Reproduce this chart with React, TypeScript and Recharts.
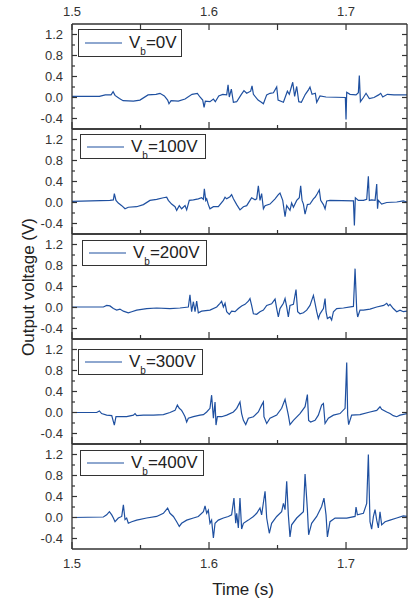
import React from 'react';
import { LineChart, Line, XAxis, YAxis } from 'recharts';

// ---------- data ----------
const timeTicks = [1.5, 1.55, 1.6, 1.65, 1.7];
const timeLabels = [1.5, 1.6, 1.7];
const voltTicks = [-0.4, -0.2, 0, 0.2, 0.4, 0.6, 0.8, 1.0, 1.2];
const voltLabels = [-0.4, 0, 0.4, 0.8, 1.2];
const timeDomain: [number, number] = [1.5, 1.7445];
const voltDomain: [number, number] = [-0.6, 1.4];
const biasLabels = ['0V', '100V', '200V', '300V', '400V'];

const vb0: [number, number][] = [
  [1.5, 0.02], [1.52, 0.02], [1.5243, 0.05], [1.5285, 0.05], [1.53, 0.11], [1.5314, 0.04],
  [1.5346, -0.02], [1.5373, -0.06], [1.5448, -0.07], [1.5496, -0.05], [1.5555, 0.05],
  [1.5613, 0.06], [1.5642, 0.08], [1.5674, 0.03], [1.5698, -0.05], [1.5708, -0.12],
  [1.5723, -0.06], [1.5776, -0.07], [1.5825, -0.03], [1.5876, 0.06], [1.5915, 0.08],
  [1.5934, 0.01], [1.5954, -0.05], [1.5964, -0.19], [1.5973, -0.07], [1.6007, -0.08],
  [1.6032, -0.03], [1.6046, -0.08], [1.6071, 0.03], [1.61, 0.06], [1.6129, 0.05],
  [1.6139, 0.24], [1.6148, 0.01], [1.6163, 0.16], [1.6178, -0.09], [1.6202, -0.08],
  [1.6236, 0.06], [1.6255, 0.13], [1.6275, 0.08], [1.6304, 0.12], [1.6314, 0.22],
  [1.6324, 0.06], [1.6358, -0.05], [1.6382, -0.09], [1.6397, -0.12], [1.6421, 0.05],
  [1.6445, 0.08], [1.647, 0.09], [1.6494, 0.2], [1.6504, -0.05], [1.6543, -0.09],
  [1.6572, 0.12], [1.6586, 0.06], [1.6601, 0.2], [1.6611, 0.29], [1.6625, 0.02],
  [1.664, 0.21], [1.6655, -0.08], [1.6674, -0.09], [1.6703, 0.06], [1.6727, 0.15],
  [1.6737, 0.2], [1.6752, 0.06], [1.6776, 0.08], [1.6786, -0.09], [1.681, 0.03],
  [1.6854, 0.01], [1.6995, 0.0], [1.7, -0.42], [1.7005, 0.1], [1.7029, 0.06],
  [1.7073, 0.05], [1.709, 0.09], [1.7097, 0.42], [1.7105, -0.08], [1.7127, 0.0],
  [1.7146, 0.08], [1.717, -0.02], [1.7204, 0.0], [1.7238, 0.05], [1.7253, 0.08],
  [1.7268, 0.01], [1.7302, 0.06], [1.735, 0.05], [1.7445, 0.05],
];

const vb100: [number, number][] = [
  [1.5, 0.02], [1.5277, 0.04], [1.5302, 0.05], [1.5309, 0.17], [1.5321, 0.04], [1.5338, -0.01],
  [1.5363, -0.06], [1.5387, -0.12], [1.5411, -0.09], [1.5472, -0.08], [1.5521, -0.04],
  [1.5569, 0.04], [1.5618, 0.06], [1.5667, 0.09], [1.5691, 0.1], [1.5703, 0.04],
  [1.5727, -0.03], [1.5752, -0.08], [1.5764, -0.15], [1.5783, -0.06], [1.58, -0.12],
  [1.5825, -0.06], [1.5837, -0.14], [1.5856, 0.04], [1.5886, 0.05], [1.5922, 0.07],
  [1.5946, 0.09], [1.5959, 0.06], [1.5966, 0.26], [1.5976, 0.04], [1.5983, 0.07],
  [1.5995, -0.04], [1.6007, -0.12], [1.6032, -0.08], [1.6068, -0.08], [1.6105, 0.04],
  [1.6117, 0.1], [1.6129, 0.07], [1.6153, 0.11], [1.6165, 0.15], [1.6178, 0.07],
  [1.6202, -0.04], [1.6226, -0.14], [1.6251, -0.08], [1.6275, -0.06], [1.6299, 0.04],
  [1.6311, 0.09], [1.6336, 0.05], [1.6348, 0.07], [1.636, 0.32], [1.6372, 0.04],
  [1.6384, 0.17], [1.6397, -0.12], [1.6409, -0.06], [1.6445, -0.03], [1.6482, 0.07],
  [1.6506, 0.15], [1.6518, 0.18], [1.6538, 0.04], [1.6555, -0.27], [1.6567, -0.06],
  [1.6591, -0.15], [1.6603, -0.01], [1.6616, -0.09], [1.664, 0.04], [1.6659, 0.09],
  [1.6669, 0.32], [1.6679, 0.04], [1.6689, -0.03], [1.6701, -0.22], [1.6718, -0.04],
  [1.6737, -0.03], [1.6762, 0.07], [1.6774, 0.1], [1.6791, 0.17], [1.6805, 0.24],
  [1.6815, 0.04], [1.6835, -0.04], [1.6847, -0.12], [1.6859, 0.03], [1.6883, 0.04],
  [1.7054, 0.03], [1.7061, -0.44], [1.7068, 0.09], [1.709, 0.04], [1.7127, 0.04],
  [1.7151, 0.06], [1.7163, 0.5], [1.717, 0.04], [1.7187, 0.05], [1.7212, 0.04],
  [1.7224, 0.35], [1.723, -0.12], [1.7236, 0.04], [1.726, -0.03], [1.7297, 0.0],
  [1.737, 0.01], [1.7418, 0.03], [1.7445, 0.01],
];

const vb200: [number, number][] = [
  [1.5, 0.01], [1.5229, 0.01], [1.5253, 0.04], [1.5277, 0.03], [1.5302, -0.02], [1.5326, -0.05],
  [1.535, -0.03], [1.5375, -0.07], [1.5411, -0.1], [1.5436, -0.08], [1.5472, -0.05],
  [1.5545, -0.02], [1.5618, -0.01], [1.5715, -0.02], [1.5788, -0.01], [1.5849, 0.01],
  [1.5861, 0.24], [1.5873, -0.08], [1.5886, 0.11], [1.5898, -0.08], [1.591, 0.12],
  [1.5922, -0.1], [1.5946, -0.07], [1.6007, -0.05], [1.6056, 0.01], [1.608, 0.08],
  [1.6092, 0.12], [1.6105, 0.01], [1.6117, 0.08], [1.6129, -0.08], [1.6148, -0.13],
  [1.6165, -0.07], [1.619, -0.08], [1.6214, -0.02], [1.6238, 0.03], [1.6263, 0.06],
  [1.6287, 0.12], [1.6299, 0.17], [1.6311, 0.04], [1.6324, -0.12], [1.6348, -0.13],
  [1.6372, -0.08], [1.6397, -0.05], [1.6421, 0.04], [1.6457, 0.07], [1.6482, 0.16],
  [1.6494, -0.02], [1.6506, -0.18], [1.6518, -0.02], [1.6543, 0.08], [1.6555, 0.17],
  [1.6567, 0.01], [1.6579, -0.18], [1.6591, 0.04], [1.6616, 0.06], [1.6635, 0.34],
  [1.6647, -0.08], [1.6664, -0.12], [1.6689, -0.1], [1.6713, -0.05], [1.6737, 0.04],
  [1.6762, 0.23], [1.6774, 0.08], [1.6786, -0.08], [1.6798, -0.21], [1.681, -0.12],
  [1.6835, -0.02], [1.6847, 0.17], [1.6854, -0.08], [1.6864, -0.21], [1.6883, -0.18],
  [1.6895, -0.24], [1.6908, -0.08], [1.6932, -0.02], [1.6981, -0.01], [1.7054, 0.02],
  [1.7066, 0.74], [1.7078, -0.05], [1.7085, -0.18], [1.7102, -0.05], [1.7127, -0.05],
  [1.7175, -0.03], [1.7224, 0.01], [1.7275, 0.04], [1.7297, 0.08], [1.7309, 0.03],
  [1.7321, 0.06], [1.7345, -0.02], [1.737, -0.08], [1.7394, -0.05], [1.7418, -0.08],
  [1.7445, -0.07],
];

const vb300: [number, number][] = [
  [1.5, 0.0], [1.518, 0.0], [1.52, 0.03], [1.5216, -0.02], [1.5253, -0.05], [1.529, -0.06],
  [1.5309, -0.24], [1.5321, -0.08], [1.535, -0.08], [1.5399, -0.08], [1.5448, -0.05],
  [1.546, -0.02], [1.5472, -0.06], [1.5521, -0.05], [1.5594, -0.05], [1.5667, -0.04],
  [1.5715, 0.0], [1.5752, 0.04], [1.5769, 0.14], [1.5783, 0.08], [1.58, 0.04],
  [1.5813, -0.02], [1.5825, -0.08], [1.5837, -0.18], [1.5849, -0.11], [1.5886, -0.08],
  [1.5934, -0.05], [1.5959, -0.04], [1.5983, 0.01], [1.6007, 0.08], [1.6019, 0.33],
  [1.6032, -0.11], [1.6044, 0.2], [1.6051, -0.24], [1.6061, -0.08], [1.6092, -0.08],
  [1.6129, -0.05], [1.6178, 0.01], [1.6202, 0.08], [1.6226, 0.2], [1.6238, -0.02],
  [1.6251, -0.15], [1.6268, -0.23], [1.6287, -0.11], [1.6324, -0.08], [1.636, 0.01],
  [1.6384, 0.14], [1.6397, 0.2], [1.6401, -0.08], [1.6421, -0.21], [1.6445, -0.11],
  [1.6494, -0.05], [1.653, 0.08], [1.6555, 0.25], [1.6579, -0.05], [1.6591, -0.23],
  [1.6616, -0.15], [1.6664, -0.02], [1.6701, 0.11], [1.6718, 0.34], [1.6727, -0.15],
  [1.6742, -0.18], [1.6774, -0.15], [1.6798, -0.05], [1.6822, 0.14], [1.6835, 0.17],
  [1.6847, -0.21], [1.6871, -0.11], [1.6908, -0.05], [1.6956, -0.02], [1.6993, 0.08],
  [1.7005, 0.95], [1.7012, -0.05], [1.7019, -0.23], [1.7041, -0.05], [1.7102, -0.04],
  [1.7175, 0.01], [1.7224, 0.04], [1.7248, 0.11], [1.726, 0.06], [1.7297, 0.01],
  [1.7321, -0.02], [1.7345, -0.06], [1.737, -0.08], [1.7394, -0.05], [1.7445, -0.02],
];

const vb400: [number, number][] = [
  [1.5, 0.0], [1.5229, 0.01], [1.5253, 0.05], [1.5273, 0.11], [1.529, 0.05], [1.5302, -0.01],
  [1.5314, -0.08], [1.5338, -0.01], [1.5363, 0.02], [1.5375, 0.24], [1.5387, -0.04],
  [1.5399, -0.01], [1.5411, -0.11], [1.5436, -0.08], [1.5472, -0.05], [1.5545, -0.01],
  [1.5618, 0.02], [1.5667, 0.08], [1.5698, 0.18], [1.5715, 0.08], [1.574, 0.02],
  [1.5764, -0.08], [1.5783, -0.17], [1.58, -0.11], [1.5837, -0.05], [1.5886, -0.01],
  [1.5922, 0.02], [1.5959, 0.11], [1.5971, 0.22], [1.5983, 0.08], [1.5995, 0.14],
  [1.6007, -0.11], [1.6019, -0.05], [1.6032, -0.39], [1.6044, -0.11], [1.6068, -0.05],
  [1.6105, -0.01], [1.6141, 0.02], [1.6165, 0.05], [1.6182, 0.37], [1.6195, -0.11],
  [1.6202, 0.08], [1.6214, -0.2], [1.6226, 0.37], [1.6238, -0.22], [1.6251, -0.11],
  [1.6287, -0.05], [1.6324, 0.02], [1.6348, 0.08], [1.6372, 0.18], [1.6384, 0.05],
  [1.6409, 0.5], [1.6421, -0.01], [1.644, -0.3], [1.6457, -0.11], [1.6494, 0.02],
  [1.653, 0.11], [1.6543, 0.27], [1.6555, 0.15], [1.6567, 0.69], [1.6579, 0.05],
  [1.6591, -0.37], [1.6603, -0.14], [1.664, -0.01], [1.6689, 0.11], [1.6701, 0.83],
  [1.6718, 0.15], [1.6727, -0.33], [1.6749, -0.11], [1.6786, 0.02], [1.6822, 0.21],
  [1.6839, 0.37], [1.6854, 0.05], [1.6864, -0.37], [1.6883, -0.08], [1.692, -0.01],
  [1.7005, -0.01], [1.7066, 0.02], [1.7073, 0.2], [1.7083, 0.05], [1.7127, 0.08],
  [1.7151, 0.27], [1.7163, 1.2], [1.7175, -0.08], [1.7187, -0.22], [1.72, 0.02],
  [1.7212, 0.15], [1.7224, -0.05], [1.7236, -0.2], [1.7248, 0.11], [1.726, -0.14],
  [1.7285, -0.08], [1.7321, -0.05], [1.737, -0.01], [1.7418, 0.03], [1.7445, 0.02],
];

const allSeries = [vb0, vb100, vb200, vb300, vb400];

// ---------- style ----------
const FONT = '"Liberation Sans", Arial, Helvetica, sans-serif';
const AXIS = '#333333';
const TRACE = '#1f50a0';
const PLOT_TOP = 24;
const PANEL_H = 105;
const LEGEND_BOXES = [
  { left: 78, top: 29, width: 104, height: 28 },
  { left: 80, top: 134, width: 126, height: 25 },
  { left: 82, top: 240, width: 125, height: 26 },
  { left: 78, top: 349, width: 125, height: 26 },
  { left: 80, top: 450, width: 124, height: 26 },
];

const isIn = (arr: number[], v: number) => arr.some((a) => Math.abs(a - v) < 1e-9);

function LeftTick(props: any) {
  const { x, y, payload } = props;
  const major = isIn(voltLabels, payload.value);
  return (
    <g>
      <line x1={x} x2={x + (major ? 5 : 3)} y1={y} y2={y} stroke={AXIS} strokeWidth={1.2} />
      {major && (
        <text x={x - 9} y={y} dy="0.36em" textAnchor="end" fontSize={13} fill="#333" fontFamily={FONT}>
          {Number(payload.value).toFixed(1)}
        </text>
      )}
    </g>
  );
}

function RightTick(props: any) {
  const { x, y, payload } = props;
  const major = isIn(voltLabels, payload.value);
  return <line x1={x} x2={x - (major ? 5 : 3)} y1={y} y2={y} stroke={AXIS} strokeWidth={1.2} />;
}

function TopTick(props: any) {
  const { x, y, payload, showLabel } = props;
  if (!showLabel) return <g />;
  const major = isIn(timeLabels, payload.value);
  return (
    <g>
      <line x1={x} x2={x} y1={y} y2={y + 6} stroke={AXIS} strokeWidth={1.2} />
      {major && (
        <text x={x} y={y - 8} textAnchor="middle" fontSize={13} fill="#333" fontFamily={FONT}>
          {Number(payload.value).toFixed(1)}
        </text>
      )}
    </g>
  );
}

function BottomTick(props: any) {
  const { x, y, payload, showLabel } = props;
  const major = isIn(timeLabels, payload.value);
  return (
    <g>
      <line x1={x} x2={x} y1={y} y2={y - (major ? 7 : 4)} stroke={AXIS} strokeWidth={1.2} />
      {showLabel && major && (
        <text x={x} y={y + 19} textAnchor="middle" fontSize={13} fill="#333" fontFamily={FONT}>
          {Number(payload.value).toFixed(1)}
        </text>
      )}
    </g>
  );
}

function Panel({ index }: { index: number }) {
  const isTop = index === 0;
  const isBottom = index === allSeries.length - 1;
  const topH = isTop ? PLOT_TOP : 1;
  const bottomH = isBottom ? 603 - (PLOT_TOP + PANEL_H * allSeries.length) : 1;
  const height = topH + PANEL_H + bottomH;
  const chartTop = PLOT_TOP + PANEL_H * index - topH;
  const data = allSeries[index].map(([t, v]) => ({ t, v }));
  const axisLine = { stroke: AXIS, strokeWidth: 1.3 };
  return (
    <div style={{ position: 'absolute', left: 0, top: chartTop }}>
      <LineChart width={408} height={height} data={data} margin={{ top: 0, right: 0, bottom: 0, left: 0 }}>
        <XAxis
          xAxisId="b"
          dataKey="t"
          type="number"
          orientation="bottom"
          domain={timeDomain}
          ticks={timeTicks}
          interval={0}
          height={bottomH}
          tickSize={0}
          tickMargin={0}
          tickLine={false}
          axisLine={axisLine}
          tick={(p: any) => <BottomTick {...p} showLabel={isBottom} />}
        />
        <XAxis
          xAxisId="t"
          dataKey="t"
          type="number"
          orientation="top"
          domain={timeDomain}
          ticks={timeTicks}
          interval={0}
          height={topH}
          tickSize={0}
          tickMargin={0}
          tickLine={false}
          axisLine={axisLine}
          tick={(p: any) => <TopTick {...p} showLabel={isTop} />}
        />
        <YAxis
          yAxisId="l"
          dataKey="v"
          type="number"
          orientation="left"
          domain={voltDomain}
          ticks={voltTicks}
          interval={0}
          width={72}
          tickSize={0}
          tickMargin={0}
          tickLine={false}
          axisLine={axisLine}
          tick={(p: any) => <LeftTick {...p} />}
        />
        <YAxis
          yAxisId="r"
          dataKey="v"
          type="number"
          orientation="right"
          domain={voltDomain}
          ticks={voltTicks}
          interval={0}
          width={1}
          tickSize={0}
          tickMargin={0}
          tickLine={false}
          axisLine={axisLine}
          tick={(p: any) => <RightTick {...p} />}
        />
        <Line
          xAxisId="b"
          yAxisId="l"
          type="linear"
          dataKey="v"
          stroke={TRACE}
          strokeWidth={1.2}
          dot={false}
          isAnimationActive={false}
        />
      </LineChart>
    </div>
  );
}

function LegendBox({ index }: { index: number }) {
  const box = LEGEND_BOXES[index];
  return (
    <div
      style={{
        position: 'absolute',
        left: box.left,
        top: box.top,
        width: box.width,
        height: box.height,
        boxSizing: 'border-box',
        border: `1.3px solid ${AXIS}`,
        background: '#fff',
        display: 'flex',
        alignItems: 'center',
        fontFamily: FONT,
        fontSize: 17,
        color: '#222',
        whiteSpace: 'nowrap',
      }}
    >
      <svg width={44} height={6} style={{ marginLeft: 6, flex: 'none' }}>
        <line x1={0} x2={37} y1={3} y2={3} stroke={TRACE} strokeWidth={1.2} />
      </svg>
      <span>
        V<span style={{ fontSize: 10, position: 'relative', top: 7 }}>b</span>={biasLabels[index]}
      </span>
    </div>
  );
}

export default function App() {
  return (
    <div style={{ position: 'absolute', left: 0, top: 0, width: 408, height: 603, background: '#fff', overflow: 'hidden' }}>
      {allSeries.map((_, i) => (
        <Panel key={i} index={i} />
      ))}
      {allSeries.map((_, i) => (
        <LegendBox key={'lg' + i} index={i} />
      ))}
      <svg width={408} height={603} style={{ position: 'absolute', left: 0, top: 0, pointerEvents: 'none' }}>
        <text x={243} y={595} textAnchor="middle" fontSize={17} fill="#222" fontFamily={FONT}>
          Time (s)
        </text>
        <text
          x={34}
          y={287}
          textAnchor="middle"
          fontSize={17}
          fill="#222"
          fontFamily={FONT}
          transform="rotate(-90 34 287)"
        >
          Output voltage (V)
        </text>
      </svg>
    </div>
  );
}
